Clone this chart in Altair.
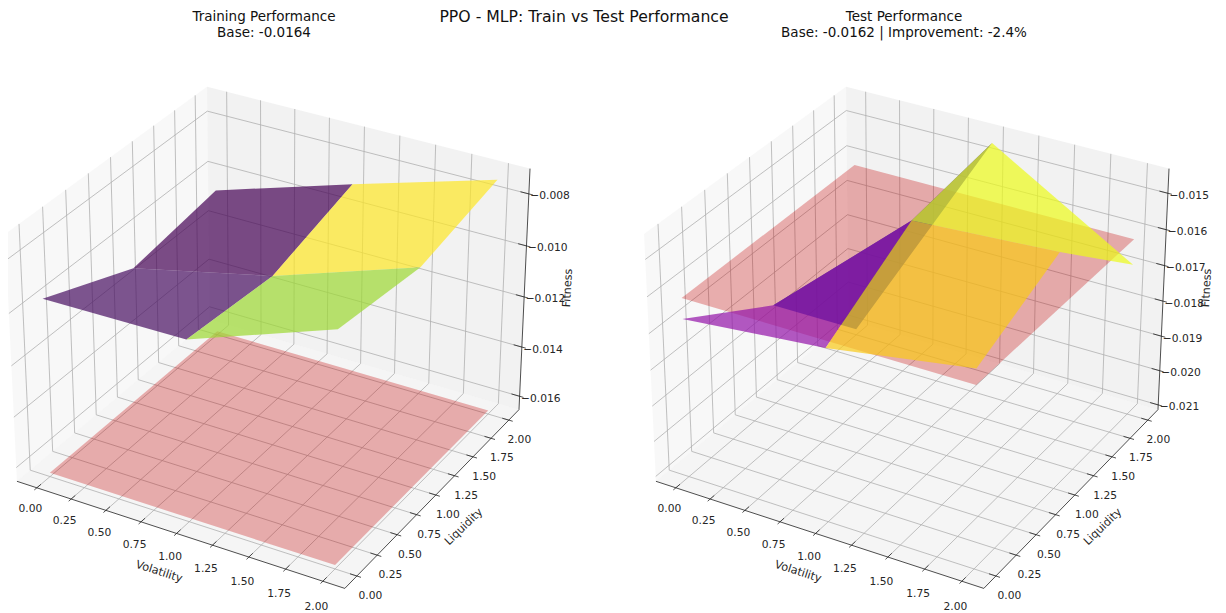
import altair as alt
import pandas as pd
import math

VOL = [0.0, 1.0, 2.0]
LIQ = [0.0, 1.0, 2.0]
TICKS_XY = [0.0, 0.25, 0.5, 0.75, 1.0, 1.25, 1.5, 1.75, 2.0]
XY_LIM = (-0.146, 2.146)

# fitness[liquidity index][volatility index]
TRAIN_Z = [[-0.00961, -0.00955, -0.00757],
           [-0.01112, -0.00988, -0.00802],
           [-0.01060, -0.00891, -0.00731]]
TRAIN_BASE = -0.0164
TRAIN_TICKS = [-0.016, -0.014, -0.012, -0.010, -0.008]
TRAIN_LIM = (-0.01655, -0.00704)

TEST_Z = [[-0.01672, -0.01635, -0.01572],
          [-0.01830, -0.01486, -0.01463],
          [-0.02097, -0.01453, -0.01686]]
TEST_BASE = -0.01615
TEST_TICKS = [-0.021, -0.020, -0.019, -0.018, -0.017, -0.016, -0.015]
TEST_LIM = (-0.02114, -0.01433)

TRAIN_COLORS = {"bl": "rgb(68,1,84)", "br": "rgb(253,231,37)", "fl": "rgb(71,14,97)", "fr": "rgb(157,217,50)"}
TEST_COLORS = {"bl": "rgb(13,8,135)", "fl": "rgb(147,18,168)", "fr": "rgb(249,203,24)", "br": "rgb(237,251,26)"}
BASE_COLOR = "rgb(197,0,0)"

SUPTITLE = "PPO - MLP: Train vs Test Performance"
TRAIN_TITLE = ["Training Performance", "Base: -0.0164"]
TEST_TITLE = ["Test Performance", "Base: -0.0162 | Improvement: -2.4%"]

FONT = "DejaVu Sans"
TXT = "#262626"
SCALE = 3155.0
CY = 325.5
BOX = (1.1905, 1.1905, 0.8929)
U = (0.8660, 0.5, 0.0)
V = (-0.25, 0.4330, 0.8660)
W = (0.4330, -0.75, 0.5)

X = alt.X("px:Q", scale=alt.Scale(domain=[8, 1218], zero=False, nice=False), axis=None)
Y = alt.Y("py:Q", scale=alt.Scale(domain=[605, 8], zero=False, nice=False), axis=None)


def make_proj(zlim, cx):
    def proj(x, y, z):
        d = ((x - XY_LIM[0]) / (XY_LIM[1] - XY_LIM[0]) * BOX[0] - BOX[0] / 2,
             (y - XY_LIM[0]) / (XY_LIM[1] - XY_LIM[0]) * BOX[1] - BOX[1] / 2,
             (z - zlim[0]) / (zlim[1] - zlim[0]) * BOX[2] - BOX[2] / 2)
        du = sum(a * b for a, b in zip(U, d))
        dv = sum(a * b for a, b in zip(V, d))
        dw = sum(a * b for a, b in zip(W, d))
        return cx + SCALE * du / (10 - dw), CY - SCALE * dv / (10 - dw)
    return proj


def poly(pts, fill, opacity):
    df = pd.DataFrame([{"px": p[0], "py": p[1], "o": i} for i, p in enumerate(pts)])
    return alt.Chart(df).mark_line(
        fill=fill, fillOpacity=opacity, strokeOpacity=0, interpolate="linear-closed"
    ).encode(x=X, y=Y, order="o:Q")


def lines(segs, color, width):
    rows = []
    for k, seg in enumerate(segs):
        for i, p in enumerate(seg):
            rows.append({"px": p[0], "py": p[1], "o": i, "k": k})
    return alt.Chart(pd.DataFrame(rows)).mark_line(
        color=color, strokeWidth=width
    ).encode(x=X, y=Y, order="o:Q", detail="k:N")


def texts(rows, size=10.7, angle=0, align="center", color=TXT):
    df = pd.DataFrame([{"px": r[0], "py": r[1], "t": r[2]} for r in rows])
    return alt.Chart(df).mark_text(
        font=FONT, fontSize=size, angle=angle, align=align, baseline="middle", color=color
    ).encode(x=X, y=Y, text="t:N")


def fmt(z):
    return "\u2212%.3f" % abs(z)


def panel(grid, base, zticks, zlim, cx, colors, order, title, title_x):
    P = make_proj(zlim, cx)
    a, b = XY_LIM
    lo, hi = zlim
    out = []
    # panes
    out.append(poly([P(a, a, lo), P(a, b, lo), P(a, b, hi), P(a, a, hi)], "rgb(242,242,242)", 0.5))
    out.append(poly([P(a, b, lo), P(b, b, lo), P(b, b, hi), P(a, b, hi)], "rgb(230,230,230)", 0.5))
    out.append(poly([P(a, a, lo), P(b, a, lo), P(b, b, lo), P(a, b, lo)], "rgb(236,236,236)", 0.5))
    # grid
    segs = []
    for t in TICKS_XY:
        segs.append([P(t, a, lo), P(t, b, lo), P(t, b, hi)])
        segs.append([P(b, t, lo), P(a, t, lo), P(a, t, hi)])
    for z in zticks:
        segs.append([P(a, a, z), P(a, b, z), P(b, b, z)])
    out.append(lines(segs, "#b0b0b0", 0.8))
    # axis lines
    out.append(lines([[P(a, a, lo), P(b, a, lo), P(b, b, lo), P(b, b, hi)]], "#222222", 0.8))
    # ticks
    rng = b - a
    tk = []
    for t in TICKS_XY:
        tk.append([P(t, a + 0.02 * rng, lo), P(t, a - 0.012 * rng, lo)])
        tk.append([P(b + 0.012 * rng, t, lo), P(b - 0.02 * rng, t, lo)])
    for z in zticks:
        tk.append([P(b - 0.025 * rng, b, z), P(b + 0.012 * rng, b, z)])
    out.append(lines(tk, "#222222", 0.8))
    # base plane
    out.append(poly([P(VOL[0], LIQ[0], base), P(VOL[-1], LIQ[0], base),
                     P(VOL[-1], LIQ[-1], base), P(VOL[0], LIQ[-1], base)], BASE_COLOR, 0.3))
    # surface faces
    faces = {"fl": (0, 0), "fr": (1, 0), "bl": (0, 1), "br": (1, 1)}
    for key in order:
        i, j = faces[key]
        pts = [P(VOL[i], LIQ[j], grid[j][i]), P(VOL[i + 1], LIQ[j], grid[j][i + 1]),
               P(VOL[i + 1], LIQ[j + 1], grid[j + 1][i + 1]), P(VOL[i], LIQ[j + 1], grid[j + 1][i])]
        out.append(poly(pts, colors[key], 0.7))
    # tick labels
    rows_x, rows_y, rows_z = [], [], []
    for t in TICKS_XY:
        p = P(t, a, lo)
        rows_x.append((p[0] - 6.5, p[1] + 21 + 2.5 * t, "%.2f" % t))
        q = P(b, t, lo)
        rows_y.append((q[0] + 13.5 - 1.5 * t, q[1] + 20, "%.2f" % t))
    for z in zticks:
        p = P(b, b, z)
        rows_z.append((p[0] + 1.5, p[1] + 2.5, fmt(z)))
    out.append(texts(rows_x))
    out.append(texts(rows_y))
    out.append(texts(rows_z, align="left"))
    # axis titles
    dx = cx - 272.6
    out.append(texts([(159 + dx, 572, "Volatility")], size=11.2, angle=18))
    out.append(texts([(464 + dx, 527, "Liquidity")], size=11.2, angle=316))
    out.append(texts([(568 + dx, 288, "Fitness")], size=11.2, angle=273))
    # panel title
    out.append(texts([(title_x, 17, title[0]), (title_x, 33, title[1])], size=13.5, color="#111111"))
    return out


layers = []
layers += panel(TRAIN_Z, TRAIN_BASE, TRAIN_TICKS, TRAIN_LIM, 272.6, TRAIN_COLORS,
                ["bl", "br", "fl", "fr"], TRAIN_TITLE, 264)
layers += panel(TEST_Z, TEST_BASE, TEST_TICKS, TEST_LIM, 911.6, TEST_COLORS,
                ["bl", "fl", "fr", "br"], TEST_TITLE, 904)
layers.append(texts([(584, 17, SUPTITLE)], size=15.7, color="#111111"))

chart = alt.layer(*layers).properties(
    width=1210, height=597,
    padding={"left": 0, "top": 0, "right": 0, "bottom": 8},
    autosize=alt.AutoSizeParams(type="none"),
).configure_view(stroke=None)

chart.save("out.html", embed_options={"renderer": "svg", "actions": False})
